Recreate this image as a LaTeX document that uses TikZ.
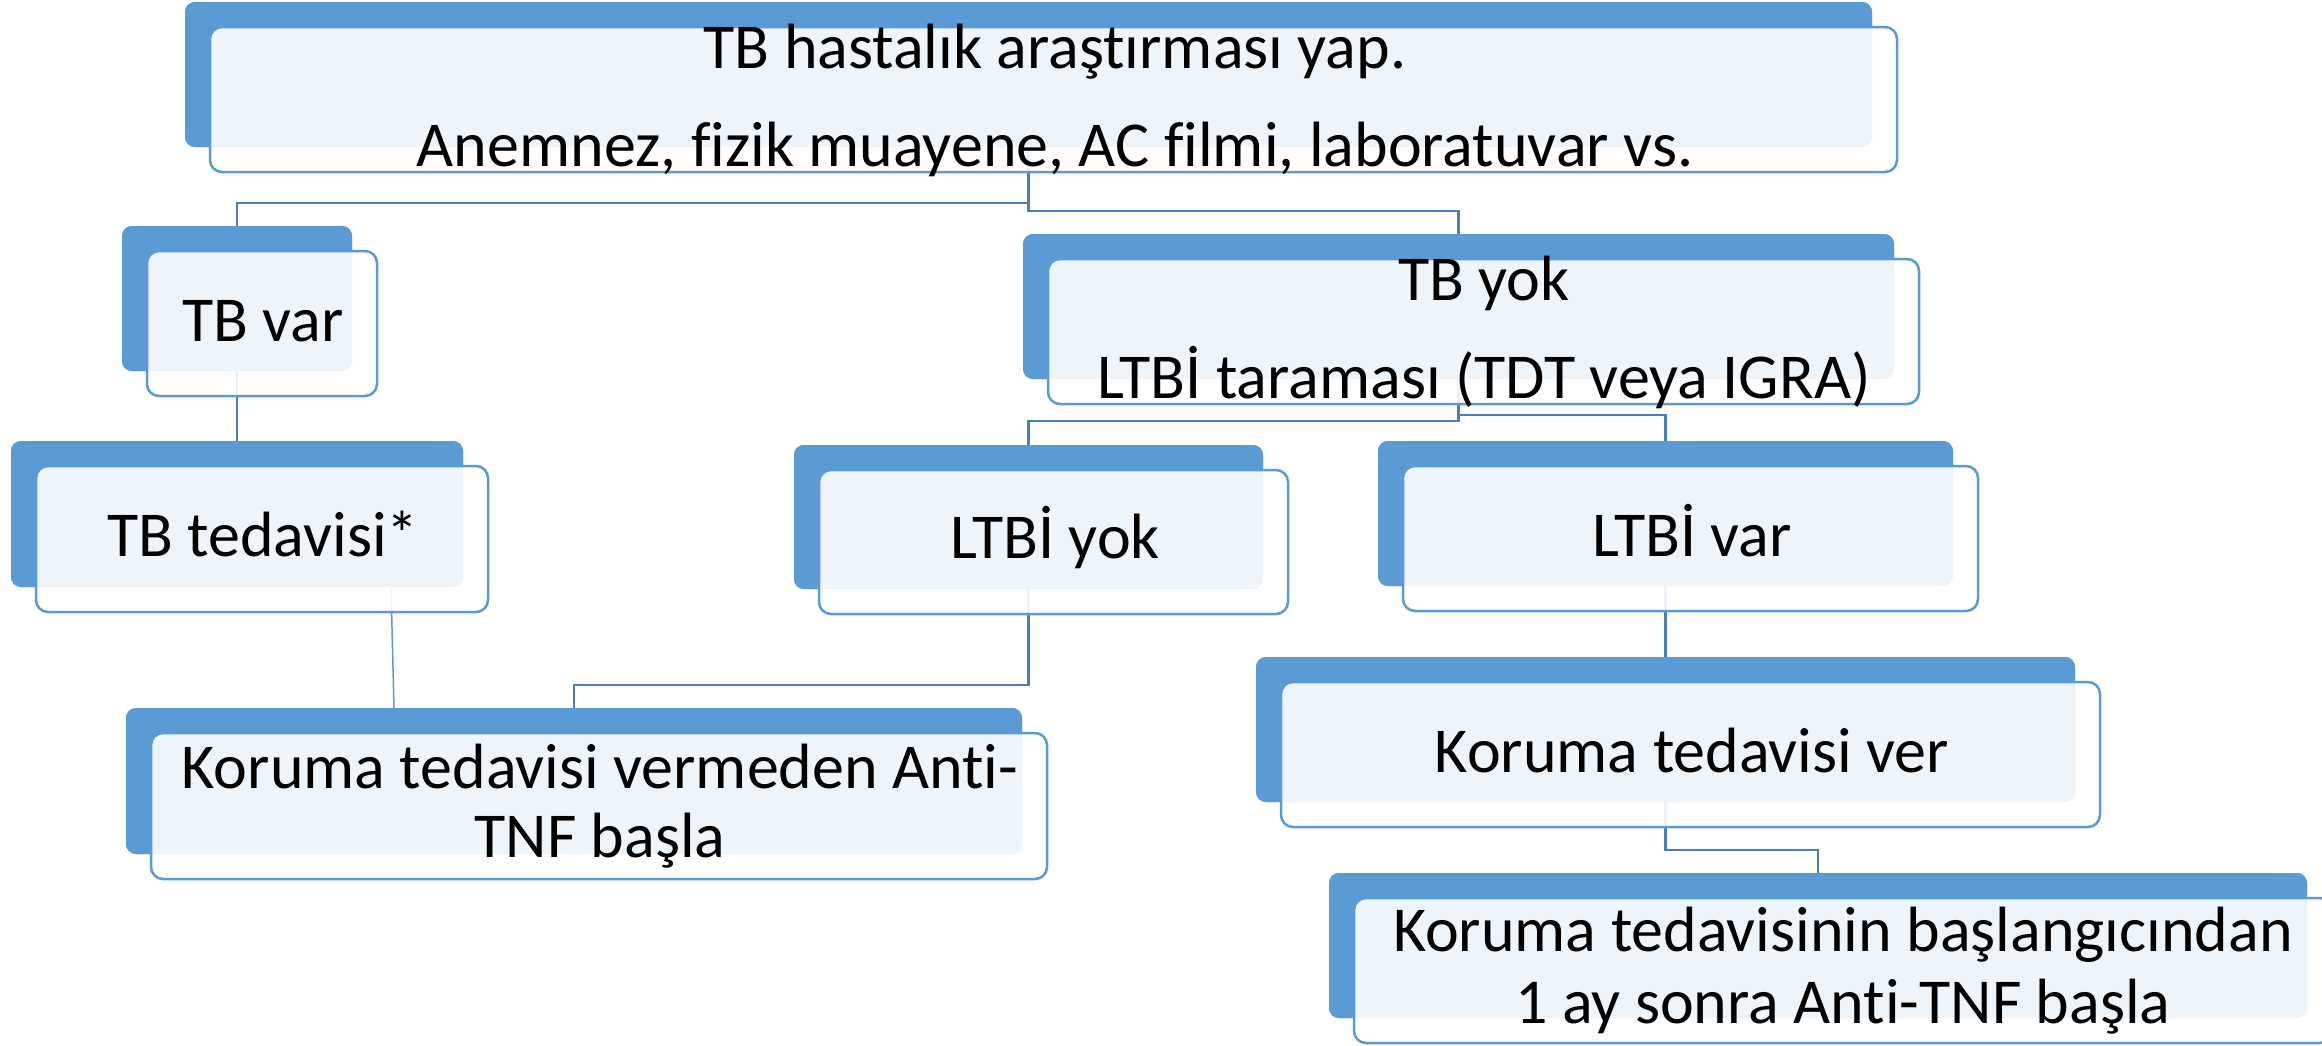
\documentclass[tikz,border=0pt]{standalone}
\usepackage{fontspec}
\setmainfont{Carlito}[Ligatures={NoCommon}]
\usetikzlibrary{calc}
\definecolor{dkblue}{HTML}{5B9BD5}
\definecolor{connblue}{HTML}{4A7EBB}
\tikzset{
  darkbox/.style={fill=dkblue, draw=none, rounded corners=10pt, anchor=north west, inner sep=0pt, outer sep=0pt},
  lightbox/.style={fill=white, fill opacity=0.9, draw=dkblue, draw opacity=1, line width=2.5pt, rounded corners=12pt, anchor=north west, inner sep=0pt, outer sep=0pt},
  conn/.style={draw=connblue, line width=2.8pt},
  thinconn/.style={draw=dkblue, line width=1.5pt},
  txt/.style={anchor=base, font=\fontsize{64}{77}\selectfont, inner sep=0pt, text=black}
}
\newcommand{\mybox}[5]{%
  % #1 name, #2 x, #3 y, #4 width, #5 height
  \node[darkbox, minimum width=#4pt, minimum height=#5pt] (d#1) at (#2,#3) {};
}
\newcommand{\mylight}[3]{%
  \node[lightbox, minimum width=#2pt, minimum height=#3pt] (l#1) at ([shift={(25pt,-25pt)}]d#1.north west) {};
}
\begin{document}
\begin{tikzpicture}[x=1pt,y=-1pt]
\useasboundingbox (0,0) rectangle (2322,1045);
\clip (0,0) rectangle (2322,1045);
\fill[white] (0,0) rectangle (2322,1045);

% dark boxes (positions for connectors)
\mybox{top}{185}{2}{1687}{145}
\mybox{tbvar}{122}{226}{230}{145}
\mybox{tbyok}{1023}{234}{871}{145}
\mybox{tbted}{11}{441}{452}{146}
\mybox{lyok}{794}{445}{469}{144}
\mybox{lvar}{1378}{441}{575}{145}
\mybox{kvm}{126}{708}{896}{146}
\mybox{kver}{1256}{657}{819}{145}
\mybox{kfin}{1329}{873}{978}{145}

% connectors
\draw[conn] (dtop.south) -- ++(0,56) -| (dtbvar.north);
\draw[conn] (dtop.south) -- ++(0,64) -| (dtbyok.north);
\draw[conn] (dtbvar.south) -- (dtbted.north);
\draw[conn] (dtbyok.south) -- ++(0,42) -| (dlyok.north);
\draw[conn] (dtbyok.south) -- ++(0,36) -| (dlvar.north);
\draw[conn] (dlyok.south) -- ++(0,96) -| (dkvm.north);
\draw[conn] (dlvar.south) -- (dkver.north);
\draw[conn] (dkver.south) -- ++(0,48) -| (dkfin.north);
\draw[thinconn] ([xshift=380pt]dtbted.south west) -- ([xshift=268pt]dkvm.north west);

% redraw dark boxes above connectors
\mybox{top}{185}{2}{1687}{145}
\mybox{tbvar}{122}{226}{230}{145}
\mybox{tbyok}{1023}{234}{871}{145}
\mybox{tbted}{11}{441}{452}{146}
\mybox{lyok}{794}{445}{469}{144}
\mybox{lvar}{1378}{441}{575}{145}
\mybox{kvm}{126}{708}{896}{146}
\mybox{kver}{1256}{657}{819}{145}
\mybox{kfin}{1329}{873}{978}{145}

% light boxes
\mylight{top}{1687}{145}
\mylight{tbvar}{230}{145}
\mylight{tbyok}{871}{145}
\mylight{tbted}{452}{146}
\mylight{lyok}{469}{144}
\mylight{lvar}{575}{145}
\mylight{kvm}{896}{146}
\mylight{kver}{819}{145}
\mylight{kfin}{978}{145}

% texts
\node[txt] (t1a) at (1055,68) {TB hastalık araştırması yap.};
\node[txt] (t1b) at (1055,166) {Anemnez, fizik muayene, AC filmi, laboratuvar vs.};
\node[txt] (t2) at (263,341) {TB var};
\node[txt] (t3a) at (1484,300) {TB yok};
\node[txt] (t3b) at (1484,398) {LTBİ taraması (TDT veya IGRA)};
\node[txt] (t4) at (263,556) {TB tedavisi*};
\node[txt] (t5) at (1055,558) {LTBİ yok};
\node[txt] (t6) at (1692,556) {LTBİ var};
\node[txt] (t7a) at (600,788) {Koruma tedavisi vermeden Anti-};
\node[txt] (t7b) at (600,857) {TNF başla};
\node[txt] (t8) at (1692,772) {Koruma tedavisi ver};
\node[txt] (t9a) at (1843,951) {Koruma tedavisinin başlangıcından};
\node[txt] (t9b) at (1843,1023) {1 ay sonra Anti-TNF başla};
\end{tikzpicture}
\end{document}
